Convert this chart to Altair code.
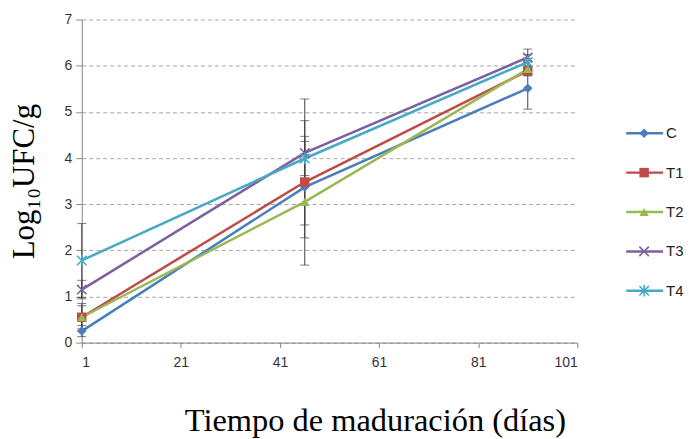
import altair as alt
import pandas as pd

# ---- data ----
series = ["C", "T1", "T2", "T3", "T4"]
dias = [1, 46, 91]
valores = {
    "C":  [0.25, 3.37, 5.51],
    "T1": [0.55, 3.48, 5.89],
    "T2": [0.55, 3.05, 5.93],
    "T3": [1.15, 4.11, 6.18],
    "T4": [1.78, 3.99, 6.08],
}
errores = {
    "C":  [0.12, 1.10, 0.45],
    "T1": [0.30, 1.80, 0.10],
    "T2": [0.25, 0.50, 0.15],
    "T3": [0.20, 0.70, 0.18],
    "T4": [0.80, 0.37, 0.16],
}
x_ticks = [1, 21, 41, 61, 81, 101]
y_ticks = [0, 1, 2, 3, 4, 5, 6, 7]

colors = ["#4A7EBB", "#BE4B48", "#98B954", "#7D60A0", "#46AAC5"]
shapes = ["diamond", "square", "triangle-up",
          "M-1,-1L1,1M-1,1L1,-1",
          "M-1,-1L1,1M-1,1L1,-1M0,-1.2L0,1.2"]

rows = []
for s in series:
    for d, v, e in zip(dias, valores[s], errores[s]):
        rows.append({"serie": s, "dia": d, "valor": v, "lo": v - e, "hi": v + e})
df = pd.DataFrame(rows)

color_scale = alt.Scale(domain=series, range=colors)
shape_scale = alt.Scale(domain=series, range=shapes)

x_scale = alt.Scale(domain=[1, 101], nice=False, zero=False)
y_scale = alt.Scale(domain=[0, 7], nice=False)

x_axis = alt.Axis(values=x_ticks, title="Tiempo de maduración (días)", grid=False,
                  labelFont="Liberation Sans", labelFontSize=14, labelColor="#333333",
                  labelPadding=8, tickSize=5, tickColor="#868686", domainColor="#868686",
                  titleFont="Liberation Serif", titleFontSize=32.5, titleFontWeight="normal",
                  titleColor="#000000", titlePadding=35, titleX=294, titleAlign="center")
y_axis = alt.Axis(values=y_ticks, title="Log₁₀UFC/g", grid=True,
                  gridColor="#A6A6A6", gridDash=[4, 3], gridWidth=1,
                  labelFont="Liberation Sans", labelFontSize=14, labelColor="#333333",
                  labelPadding=4, tickSize=6, tickColor="#868686", domainColor="#868686",
                  titleFont="Liberation Serif", titleFontSize=31, titleFontWeight="normal",
                  titleColor="#000000", titlePadding=24)

X = alt.X("dia:Q", scale=x_scale, axis=x_axis)
Yv = alt.Y("valor:Q", scale=y_scale, axis=y_axis)
Ylo = alt.Y("lo:Q", scale=y_scale, axis=y_axis)
Yhi = alt.Y("hi:Q", scale=y_scale, axis=y_axis)
col = alt.Color("serie:N", scale=color_scale, legend=None)
shp = alt.Shape("serie:N", scale=shape_scale, legend=None)

base = alt.Chart(df)

lines = base.mark_line(strokeWidth=2.5).encode(x=X, y=Yv, color=col)
err_rule = base.mark_rule(color="#404040", strokeWidth=1).encode(x=X, y=Ylo, y2="hi:Q")
cap_lo = base.mark_tick(orient="horizontal", size=9, thickness=1, color="#404040").encode(x=X, y=Ylo)
cap_hi = base.mark_tick(orient="horizontal", size=9, thickness=1, color="#404040").encode(x=X, y=Yhi)
pts_fill = base.transform_filter(
    alt.FieldOneOfPredicate(field="serie", oneOf=["C", "T1", "T2"])
).mark_point(filled=True, size=90, opacity=1).encode(x=X, y=Yv, color=col, shape=shp)
pts_open = base.transform_filter(
    alt.FieldOneOfPredicate(field="serie", oneOf=["T3", "T4"])
).mark_point(filled=False, size=90, strokeWidth=1.6, opacity=1).encode(x=X, y=Yv, color=col, shape=shp)

main = alt.layer(lines, err_rule, cap_lo, cap_hi, pts_fill, pts_open).properties(width=497, height=324)

# ---- legend panel ----
ldf = pd.DataFrame({"serie": series, "idx": list(range(len(series)))})
ly = alt.Y("idx:Q", scale=alt.Scale(domain=[-2.886, 5.317], reverse=True, nice=False, zero=False), axis=None)
lbase = alt.Chart(ldf)
l_rule = lbase.mark_rule(strokeWidth=2.5).encode(x=alt.value(3), x2=alt.value(40), y=ly, color=col)
l_fill = lbase.transform_filter(
    alt.FieldOneOfPredicate(field="serie", oneOf=["C", "T1", "T2"])
).mark_point(filled=True, size=90, opacity=1).encode(x=alt.value(21), y=ly, color=col, shape=shp)
l_open = lbase.transform_filter(
    alt.FieldOneOfPredicate(field="serie", oneOf=["T3", "T4"])
).mark_point(filled=False, size=90, strokeWidth=1.6, opacity=1).encode(x=alt.value(21), y=ly, color=col, shape=shp)
l_text = lbase.mark_text(align="left", baseline="middle", font="Liberation Sans",
                         fontSize=15, color="#222222").encode(x=alt.value(43), y=ly, text="serie:N")
legend = alt.layer(l_rule, l_fill, l_open, l_text).properties(width=55, height=324)

chart = alt.hconcat(main, legend, spacing=45).properties(
    padding={"left": 8, "top": 12, "right": 5, "bottom": 0}
).configure(background="white").configure_view(stroke="transparent", strokeWidth=0)

chart.save("out.html", embed_options={"renderer": "svg", "actions": False})
